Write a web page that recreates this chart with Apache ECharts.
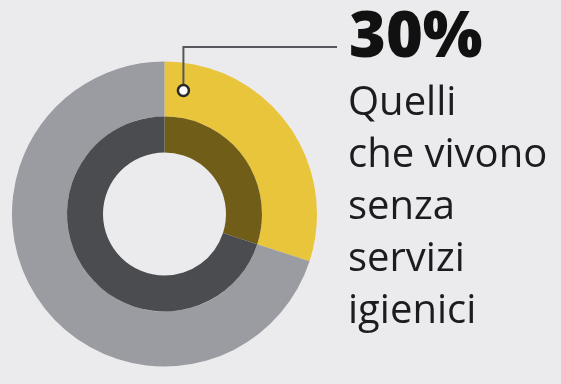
<!DOCTYPE html>
<html>
<head>
<meta charset="utf-8">
<script src="https://cdn.jsdelivr.net/npm/echarts@6/dist/echarts.min.js"></script>
<style>
  html, body { margin: 0; padding: 0; background: #ebebee; }
  #chart { width: 561px; height: 384px; }
</style>
</head>
<body>
<div id="chart"></div>
<script>
// Share of people living without sanitation vs. the rest
const categories = ['Senza servizi igienici', 'Altri'];
const shares = [30, 70];
const headline = shares[0] + '%';
const captionLines = ['Quelli', 'che vivono', 'senza', 'servizi', 'igienici'];

// Ring colours: outer (bright) and inner (shaded) variants
const outerColors = ['#e8c53a', '#9a9ca1'];
const innerColors = ['#705e18', '#4a4c50'];

// Donut layout
const cx = 164.5, cy = 214;
const rHole = 61.5, rMid = 97.5, rOuter = 152.5;

function ringData(colors) {
  return categories.map((name, i) => ({
    name: name,
    value: shares[i],
    itemStyle: { color: colors[i] }
  }));
}

// Leader line marker sits in the middle of the outer ring, just past the start of the first slice
const markerAngle = 8.7 * Math.PI / 180;
const markerR = (rMid + rOuter) / 2;
const mx = cx + markerR * Math.sin(markerAngle);
const my = cy - markerR * Math.cos(markerAngle);
const lineY = 47;
const lineEndX = 337;

// Caption block: baselines every ~52px, the em box bottom sits ~8.6px under the baseline at 40px
const textX = 348;
const captionSize = 40;
const lineStep = 52.1;
const firstBaseline = 115;
const emDescent = 0.215 * captionSize;

const graphics = [
  {
    type: 'polyline',
    shape: { points: [[mx, my], [mx, lineY], [lineEndX, lineY]] },
    style: { stroke: '#55575c', lineWidth: 2, fill: null },
    z: 10
  },
  {
    type: 'circle',
    shape: { cx: mx, cy: my, r: 5.5 },
    style: { fill: '#ffffff', stroke: '#2a2a2a', lineWidth: 2.5 },
    z: 11
  },
  {
    type: 'text',
    left: 349,
    top: 8,
    style: {
      text: headline,
      fill: '#111111',
      font: '800 63px "Open Sans"'
    },
    z: 10
  }
];

captionLines.forEach((line, i) => {
  graphics.push({
    type: 'text',
    x: textX,
    y: firstBaseline + i * lineStep + emDescent,
    style: {
      text: line,
      fill: '#1c1c1e',
      font: '400 ' + captionSize + 'px "Open Sans"',
      verticalAlign: 'bottom'
    },
    z: 10
  });
});

const chart = echarts.init(document.getElementById('chart'), null, { renderer: 'canvas' });
chart.setOption({
  backgroundColor: '#ebebee',
  animation: false,
  series: [
    {
      type: 'pie',
      center: [cx, cy],
      radius: [rMid, rOuter],
      startAngle: 90,
      clockwise: true,
      label: { show: false },
      labelLine: { show: false },
      emphasis: { disabled: true },
      silent: true,
      itemStyle: { borderWidth: 0 },
      data: ringData(outerColors)
    },
    {
      type: 'pie',
      center: [cx, cy],
      radius: [rHole, rMid],
      startAngle: 90,
      clockwise: true,
      label: { show: false },
      labelLine: { show: false },
      emphasis: { disabled: true },
      silent: true,
      itemStyle: { borderWidth: 0 },
      data: ringData(innerColors)
    }
  ],
  graphic: graphics
});
</script>
</body>
</html>
